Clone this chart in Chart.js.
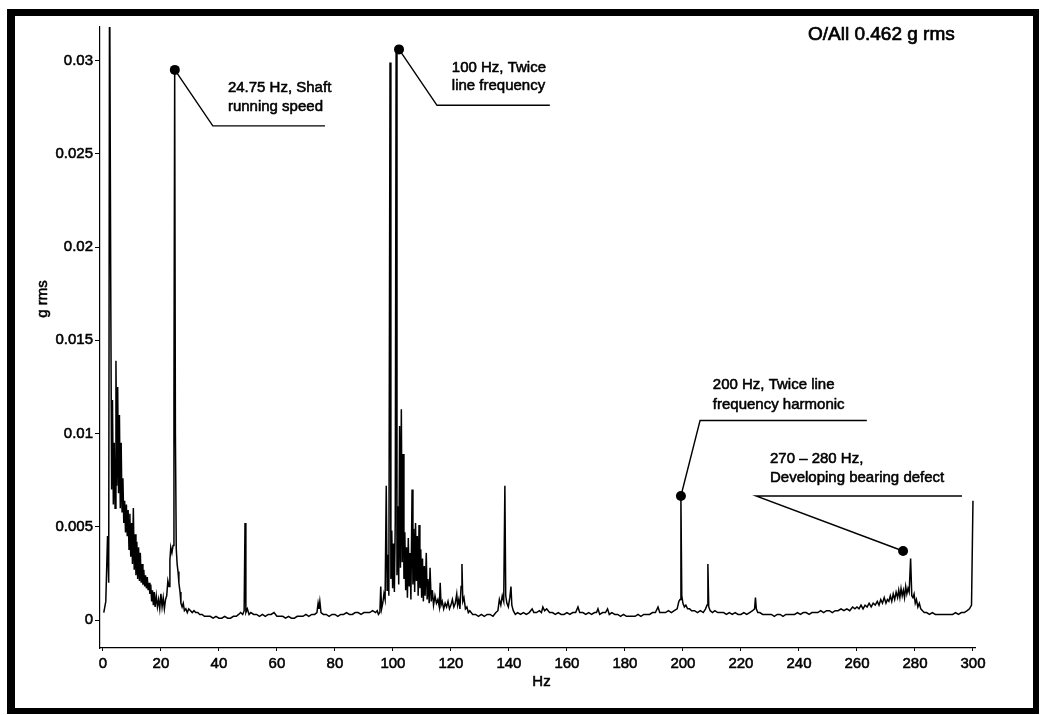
<!DOCTYPE html>
<html>
<head>
<meta charset="utf-8">
<script src="https://cdn.jsdelivr.net/npm/chart.js@4.4.1/dist/chart.umd.min.js"></script>
<style>
html,body{margin:0;padding:0;background:#fff;}
#wrap{position:relative;width:1040px;height:715px;}
</style>
</head>
<body>
<div id="wrap"><canvas id="c"></canvas></div>
<script>
// ---------- DATA ----------
// Spectrum, 0-28 Hz
const hzA = [0.3,1.0,1.6,2.0,2.3,2.7,
  3.0,3.3,3.6,3.9,4.2,4.5,4.8,5.1,5.4,5.7,6.0,6.3,6.6,6.9,7.2,7.5,
  7.8,8.1,8.4,8.7,9.0,9.3,9.6,9.9,10.2,10.5,10.8,11.1,11.4,11.7,12.0,12.3,12.6,12.9,13.2,13.5,13.8,14.1,14.4,14.7,15.0,15.3,15.6,15.9,16.2,16.5,16.8,17.1,17.4,17.7,
  18.0,18.4,18.8,19.2,19.6,20.0,20.4,20.8,21.2,21.6,22.0,
  22.4,22.8,23.1,23.4,23.8,24.2,24.5,24.75,25.0,25.3,25.6,25.9,26.2,26.6,26.9,27.3,27.7];
const gA = [0.0004,0.0010,0.0045,0.0020,0.0360,0.0180,
  0.0070,0.0118,0.0062,0.0095,0.0060,0.0139,0.0072,0.0125,0.0068,0.0110,0.0060,0.0095,0.0058,0.0076,0.0052,0.0064,
  0.0047,0.0062,0.0045,0.0059,0.0038,0.0057,0.0034,0.0052,0.0030,0.0060,0.0027,0.0046,0.0024,0.0042,0.0022,0.0039,0.0021,0.0036,0.0020,0.0030,0.0019,0.0027,0.0018,0.0024,0.0017,0.0023,0.0016,0.0020,0.0014,0.0019,0.0010,0.0016,0.0008,0.0015,
  0.0007,0.0013,0.0007,0.0011,0.0006,0.0014,0.0007,0.0012,0.0006,0.0011,0.0013,
  0.0021,0.0018,0.0032,0.0039,0.0036,0.0040,0.0120,0.0293,0.0100,0.0038,0.0030,0.0026,0.0020,0.0015,0.0009,0.0007,0.0009];
// Spectrum, 28-95 Hz
const hzB = [28.1,28.6,29.1,29.6,30.2,30.8,31.4,32.0,32.7,33.4,34.2,
  35,36,37,38,39,40,41,42,43,44,45,46,
  46.8,47.5,48.2,48.7,49.0,49.3,49.8,50.4,
  51,52,53,54,55,56,57,58,59,60,61,62,63,64,65,66,67,68,69,70,71,72,73,
  73.8,74.2,74.5,74.8,75.2,
  76,77,78,79,80,81,82,83,84,85,86,87,88,89,90,91,92,93,94,
  94.6];
const gB = [0.0005,0.0006,0.0004,0.0006,0.0005,0.0004,0.0005,0.0004,0.0004,0.0003,0.0003,
  0.0002,0.0002,0.0002,0.0001,0.0002,0.0001,0.0001,0.0002,0.0001,0.0001,0.0002,0.0002,
  0.0003,0.0004,0.0003,0.0005,0.0052,0.0004,0.0006,0.0003,
  0.0004,0.0003,0.0003,0.0002,0.0003,0.0002,0.0003,0.0003,0.0004,0.0002,0.0002,0.0002,0.0001,0.0002,0.0001,0.0001,0.0002,0.0002,0.0002,0.0003,0.0002,0.0003,0.0003,
  0.0004,0.0009,0.0006,0.0010,0.0004,
  0.0003,0.0003,0.0002,0.0003,0.0003,0.0002,0.0003,0.0003,0.0004,0.0003,0.0003,0.0004,0.0004,0.0003,0.0004,0.0004,0.0004,0.0005,0.0004,
  0.0005];
// Spectrum, 95-128 Hz (twice line frequency cluster)
const hzC = [95.0,95.5,95.8,96.1,96.5,96.9,97.3,97.7,98.0,98.3,98.6,
  99.0,99.3,99.6,99.9,100.2,100.5,100.8,101.1,101.4,101.7,102.0,
  102.3,102.6,102.9,103.2,103.5,103.8,104.1,104.4,104.7,105.0,
  105.3,105.6,105.9,106.2,106.6,106.9,107.2,107.5,107.8,108.1,
  108.4,108.7,109.0,109.3,109.6,109.9,110.2,110.5,110.8,111.1,
  111.5,111.8,112.1,112.5,112.8,113.2,113.6,114.0,114.5,115.0,
  115.5,116.0,116.3,116.6,117.0,117.5,118.0,118.5,119.0,119.5,
  120.0,120.5,121.0,121.5,122.0,122.3,122.7,123.1,123.5,123.8,
  124.1,124.5,125.0,125.5,126.0,126.5,127.5];
const gC = [0.0003,0.0004,0.0018,0.0006,0.0009,0.0014,0.0011,0.0072,0.0016,0.0035,0.0013,
  0.0299,0.0022,0.0048,0.0017,0.0041,0.0015,0.0052,0.0306,0.0024,0.0061,0.0019,
  0.0104,0.0028,0.0113,0.0031,0.0089,0.0022,0.0047,0.0016,0.0039,0.0012,
  0.0044,0.0018,0.0036,0.0011,0.0070,0.0019,0.0049,0.0015,0.0052,0.0021,
  0.0045,0.0013,0.0051,0.0017,0.0038,0.0012,0.0033,0.0010,0.0029,0.0013,
  0.0036,0.0011,0.0022,0.0009,0.0028,0.0010,0.0016,0.0008,0.0013,0.0009,
  0.0011,0.0007,0.0020,0.0008,0.0010,0.0006,0.0009,0.0007,0.0010,0.0006,
  0.0008,0.0011,0.0007,0.0009,0.0014,0.0008,0.0011,0.0006,0.0018,0.0030,
  0.0010,0.0012,0.0006,0.0007,0.0004,0.0005,0.0003];
// Spectrum, 128-198 Hz
const hzD = [128.5,129.5,130.5,131.5,132.5,133.5,134.5,135.5,136.2,136.7,
  137.2,137.7,138.2,138.6,138.9,139.3,139.8,140.3,140.7,141.0,
  141.5,142.2,143,144,145,146,147,148,148.6,149.5,
  150.5,151.2,151.7,152.3,153,154,155,156,157,158,
  159,160,161,162,163,163.8,164.4,165.5,166.5,167.5,
  168.5,169.5,170.2,170.7,171.3,172.3,173.3,174.0,174.6,175.5,
  176.5,177.5,178.5,179.5,180.5,181.5,182.5,183.5,184.5,185.5,
  186.5,187.5,188.5,189.5,190.5,191.4,192,193,194,195,
  196,197,198];
const gD = [0.0003,0.0002,0.0003,0.0002,0.0003,0.0003,0.0002,0.0004,0.0005,0.0011,
  0.0008,0.0013,0.0010,0.0072,0.0013,0.0009,0.0007,0.0012,0.0018,0.0008,
  0.0005,0.0003,0.0004,0.0003,0.0004,0.0003,0.0004,0.0006,0.0004,0.0004,
  0.0005,0.0004,0.0007,0.0005,0.0006,0.0004,0.0004,0.0003,0.0004,0.0003,
  0.0003,0.0004,0.0003,0.0004,0.0004,0.0007,0.0004,0.0004,0.0003,0.0004,
  0.0003,0.0004,0.0004,0.0006,0.0003,0.0004,0.0004,0.0006,0.0003,0.0004,
  0.0003,0.0003,0.0002,0.0003,0.0002,0.0002,0.0002,0.0002,0.0003,0.0002,
  0.0003,0.0003,0.0003,0.0004,0.0004,0.0007,0.0004,0.0004,0.0004,0.0005,
  0.0004,0.0005,0.0006];
// Spectrum, 198-259 Hz
const hzE = [198.6,199.0,199.3,199.6,200.0,200.5,201.0,201.6,202.3,203,
  204,205,206,207,207.8,208.3,208.6,208.9,209.4,210.2,
  211,212,213,214,215,216,217,218,219,220,
  221,222,223,224,224.7,225.0,225.3,225.8,226.5,227.5,
  228.5,229.5,230.5,231.5,232.5,233.5,234.5,235.5,236.5,237.5,
  238.5,239.5,240.5,241.5,242.5,243.5,244.5,245.5,246.5,247.5,
  248.5,249.5,250.5,251.5,252.5,253.5,254.5,255.5,256.5,257.5,
  258.5];
const gE = [0.0010,0.0011,0.0066,0.0013,0.0009,0.0007,0.0008,0.0006,0.0006,0.0005,
  0.0005,0.0004,0.0005,0.0004,0.0006,0.0008,0.0030,0.0007,0.0005,0.0004,
  0.0005,0.0004,0.0004,0.0004,0.0003,0.0004,0.0003,0.0004,0.0003,0.0003,
  0.0004,0.0003,0.0004,0.0005,0.0006,0.0012,0.0006,0.0004,0.0004,0.0003,
  0.0003,0.0003,0.0003,0.0002,0.0003,0.0003,0.0002,0.0003,0.0003,0.0003,
  0.0003,0.0004,0.0003,0.0004,0.0004,0.0003,0.0004,0.0004,0.0004,0.0005,
  0.0004,0.0005,0.0005,0.0004,0.0005,0.0005,0.0006,0.0005,0.0006,0.0005,
  0.0007];
// Spectrum, 259-300 Hz (bearing defect region)
const hzF = [259.3,260,260.7,261.4,262.1,262.8,263.5,264.2,264.9,265.6,
  266.3,267,267.6,268.2,268.8,269.4,270,270.5,271,271.5,
  272,272.5,273,273.5,274,274.4,274.8,275.2,275.6,276,
  276.4,276.8,277.2,277.6,278.0,278.5,278.9,279.3,279.7,280.1,
  280.5,281,281.5,282,282.6,283.2,284,285,286,287,
  288,289,290,291,292,293,294,295,296,297,
  298,298.8,299.5,300.0];
const gF = [0.0006,0.0007,0.0006,0.0008,0.0006,0.0008,0.0007,0.0009,0.0007,0.0009,
  0.0008,0.0010,0.0008,0.0011,0.0009,0.0012,0.0009,0.0011,0.0010,0.0013,
  0.0010,0.0014,0.0011,0.0015,0.0012,0.0016,0.0012,0.0017,0.0013,0.0016,
  0.0012,0.0018,0.0014,0.0017,0.0015,0.0033,0.0013,0.0012,0.0014,0.0009,
  0.0011,0.0007,0.0009,0.0006,0.0005,0.0004,0.0004,0.0003,0.0004,0.0003,
  0.0003,0.0003,0.0003,0.0003,0.0003,0.0003,0.0004,0.0003,0.0004,0.0004,
  0.0005,0.0006,0.0008,0.0064];

// Axis ticks
const xTicks = [0,20,40,60,80,100,120,140,160,180,200,220,240,260,280,300];
const yTicks = [0,0.005,0.01,0.015,0.02,0.025,0.03];
const yTickLabels = ['0','0.005','0.01','0.015','0.02','0.025','0.03'];

// Callouts (data coordinates: Hz, g rms)
const noteDotHz   = [24.8, 102.1, 199.3, 275.9];
const noteDotG    = [0.0295, 0.0306, 0.00665, 0.0037];
const noteElbowHz = [37.9, 115.2, 205.9, 225.2];
const noteElbowG  = [0.0265, 0.0276, 0.0107, 0.00665];
const noteEndHz   = [76.6, 154.1, 263.4, 296.2];
const noteTextHz  = [43.1, 120.3, 210.3, 230.0];
const noteTextG1  = [0.0283, 0.0294, 0.0124, 0.0084];
const noteTextG2  = [0.0273, 0.0284, 0.0113, 0.0074];
const noteLine1   = ['24.75 Hz, Shaft', '100 Hz, Twice', '200 Hz, Twice line', '270 \u2013 280 Hz,'];
const noteLine2   = ['running speed', 'line frequency', 'frequency harmonic', 'Developing bearing defect'];
const overallText = 'O/All 0.462 g rms';
const overallHz = 243.1, overallG = 0.0311;

// ---------- BUILD ----------
const FONT = '"Liberation Sans", Arial, Helvetica, sans-serif';
Chart.defaults.font.family = FONT;
Chart.defaults.color = '#000';

const hzAll = [].concat(hzA, hzB, hzC, hzD, hzE, hzF);
const gAll  = [].concat(gA, gB, gC, gD, gE, gF);
const spectrum = hzAll.map((f, i) => ({x: f, y: gAll[i]}));

const datasets = [{
  label: 'spectrum',
  data: spectrum,
  showLine: true,
  borderColor: '#000',
  borderWidth: 1.5,
  pointRadius: 0,
  tension: 0,
  order: 2
}];
for (let i = 0; i < noteDotHz.length; i++) {
  datasets.push({
    label: 'note' + i,
    data: [{x: noteDotHz[i], y: noteDotG[i]}, {x: noteElbowHz[i], y: noteElbowG[i]}, {x: noteEndHz[i], y: noteElbowG[i]}],
    showLine: true,
    borderColor: '#000',
    borderWidth: 1.4,
    pointRadius: [5, 0, 0],
    pointBackgroundColor: '#000',
    pointBorderColor: '#000',
    pointBorderWidth: 0,
    tension: 0,
    order: 1
  });
}

function boldText(ctx, s, x, y) {
  ctx.strokeText(s, x, y);
  ctx.fillText(s, x, y);
}

const notesPlugin = {
  id: 'notes',
  afterDatasetsDraw(chart) {
    const {ctx, chartArea} = chart;
    const x = chart.scales.x, y = chart.scales.y;
    ctx.save();
    ctx.fillStyle = '#000';
    ctx.strokeStyle = '#000';
    ctx.lineWidth = 0.55;
    ctx.lineJoin = 'round';
    ctx.textAlign = 'left';
    ctx.textBaseline = 'alphabetic';
    ctx.font = '15px ' + FONT;
    for (let i = 0; i < noteLine1.length; i++) {
      const px = x.getPixelForValue(noteTextHz[i]);
      boldText(ctx, noteLine1[i], px, y.getPixelForValue(noteTextG1[i]));
      boldText(ctx, noteLine2[i], px, y.getPixelForValue(noteTextG2[i]));
    }
    ctx.font = '19px ' + FONT;
    ctx.lineWidth = 0.7;
    boldText(ctx, overallText, x.getPixelForValue(overallHz), y.getPixelForValue(overallG));
    // axis titles
    ctx.lineWidth = 0.55;
    ctx.font = '15px ' + FONT;
    ctx.textAlign = 'center';
    ctx.textBaseline = 'middle';
    boldText(ctx, 'Hz', (chartArea.left + chartArea.right) / 2 + 4, chartArea.bottom + 34);
    ctx.save();
    ctx.translate(chartArea.left - 57, chartArea.top + 272);
    ctx.rotate(-Math.PI / 2);
    boldText(ctx, 'g rms', 0, 0);
    ctx.restore();
    ctx.restore();
  },
  afterDraw(chart) {
    const ctx = chart.ctx;
    ctx.save();
    ctx.fillStyle = '#000';
    ctx.fillRect(7, 9, 1032, 7);
    ctx.fillRect(7, 9, 8, 705);
    ctx.fillRect(1033, 9, 6, 705);
    ctx.fillRect(7, 708, 1032, 6);
    ctx.restore();
  }
};

new Chart(document.getElementById('c'), {
  type: 'scatter',
  data: {datasets},
  options: {
    responsive: true,
    maintainAspectRatio: false,
    animation: false,
    events: [],
    layout: {padding: {left: 0, right: 65, top: 27, bottom: 0}},
    plugins: {legend: {display: false}, tooltip: {enabled: false}, title: {display: false}},
    scales: {
      x: {
        type: 'linear',
        position: 'bottom',
        min: -1,
        max: 300.7,
        afterBuildTicks: s => { s.ticks = xTicks.map(v => ({value: v})); },
        afterFit: s => { s.height = 67; },
        ticks: {font: {size: 15}, color: '#000', padding: 4, maxRotation: 0, autoSkip: false,
                textStrokeColor: '#000', textStrokeWidth: 0.55, callback: v => String(v)},
        grid: {display: true, drawOnChartArea: false, drawTicks: true, tickLength: 3, color: '#000'},
        border: {display: true, color: '#000', width: 1.2},
        title: {display: false}
      },
      y: {
        type: 'linear',
        position: 'left',
        min: -0.0015,
        max: 0.0318,
        afterBuildTicks: s => { s.ticks = yTicks.map(v => ({value: v})); },
        afterFit: s => { s.width = 100; },
        ticks: {font: {size: 15}, color: '#000', padding: 2,
                textStrokeColor: '#000', textStrokeWidth: 0.55,
                callback: v => yTickLabels[yTicks.indexOf(v)]},
        grid: {display: true, drawOnChartArea: false, drawTicks: true, tickLength: 5, color: '#000'},
        border: {display: true, color: '#000', width: 1.2, dash: [6, 2]}
      }
    }
  },
  plugins: [notesPlugin]
});
</script>
</body>
</html>
